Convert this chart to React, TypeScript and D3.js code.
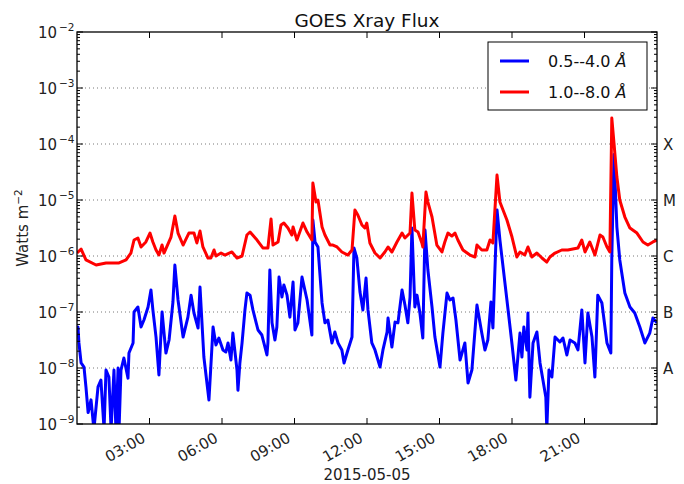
// @ts-nocheck
import * as d3 from "d3";
import { useRef, useEffect } from "react";

// GOES 1.0--8.0 A channel: [hour of 2015-05-05 UTC, flux W/m^2]
const longChannel = [
  [0.0, 1.13e-6], [0.17, 1.33e-6], [0.37, 8.5e-7], [0.79, 6.9e-7], [1.2, 7.5e-7], [1.74, 7.5e-7],
  [2.03, 8.5e-7], [2.23, 1.13e-6], [2.36, 1.93e-6], [2.52, 2.1e-6], [2.65, 1.45e-6], [2.85, 1.78e-6],
  [3.02, 2.57e-6], [3.14, 1.78e-6], [3.27, 1.28e-6], [3.39, 1.04e-6], [3.52, 1.57e-6], [3.6, 1.13e-6],
  [3.89, 2.18e-6], [4.05, 5.18e-6], [4.18, 2.57e-6], [4.39, 1.57e-6], [4.63, 2.57e-6], [4.84, 2.57e-6],
  [4.96, 1.71e-6], [5.09, 2.79e-6], [5.21, 1.45e-6], [5.42, 9.2e-7], [5.54, 9.2e-7], [5.67, 1.28e-6],
  [5.75, 1.0e-6], [5.96, 1.13e-6], [6.12, 1.04e-6], [6.41, 1.18e-6], [6.62, 9.2e-7], [6.83, 1.0e-6],
  [7.03, 2.37e-6], [7.16, 2.68e-6], [7.45, 1.93e-6], [7.69, 1.39e-6], [7.9, 1.39e-6], [8.03, 4.58e-6],
  [8.11, 1.57e-6], [8.32, 1.78e-6], [8.44, 3.57e-6], [8.56, 3.88e-6], [8.73, 3.16e-6], [8.89, 2.37e-6],
  [8.94, 3.29e-6], [9.1, 1.93e-6], [9.35, 3.88e-6], [9.52, 2.68e-6], [9.72, 1.93e-6], [9.76, 2.01e-5],
  [9.89, 9.2e-6], [9.97, 1.0e-5], [10.14, 3.29e-6], [10.26, 2.37e-6], [10.47, 1.57e-6], [10.59, 1.57e-6],
  [10.76, 1.45e-6], [10.96, 1.18e-6], [11.21, 1.04e-6], [11.38, 1.28e-6], [11.5, 6.63e-6], [11.62, 5.4e-6],
  [11.79, 3.57e-6], [11.91, 3.16e-6], [11.99, 3.88e-6], [12.12, 1.71e-6], [12.33, 1.13e-6], [12.54, 9.2e-7],
  [12.74, 1.18e-6], [12.87, 1.45e-6], [13.03, 1.18e-6], [13.24, 1.78e-6], [13.45, 2.57e-6], [13.57, 2.1e-6],
  [13.78, 2.57e-6], [13.86, 1.33e-5], [13.98, 2.91e-6], [14.11, 2.68e-6], [14.27, 1.71e-6], [14.31, 1.45e-6],
  [14.44, 1.39e-5], [14.52, 9.2e-6], [14.69, 4.97e-6], [14.89, 1.57e-6], [15.1, 1.18e-6], [15.22, 1.78e-6],
  [15.35, 2.57e-6], [15.51, 2.27e-6], [15.64, 2.57e-6], [15.76, 1.93e-6], [15.97, 1.28e-6], [16.26, 1.04e-6],
  [16.47, 9.6e-7], [16.55, 1.57e-6], [16.75, 1.28e-6], [16.96, 1.28e-6], [17.09, 1.93e-6], [17.21, 1.71e-6],
  [17.38, 2.79e-5], [17.5, 9.2e-6], [17.79, 4.39e-6], [18.0, 2.18e-6], [18.2, 9.6e-7], [18.33, 1.18e-6],
  [18.53, 1.04e-6], [18.66, 1.45e-6], [18.82, 9.6e-7], [19.03, 1.13e-6], [19.24, 9.2e-7], [19.44, 7.8e-7],
  [19.57, 9.6e-7], [19.78, 1.13e-6], [20.06, 1.28e-6], [20.31, 1.28e-6], [20.73, 1.39e-6], [20.89, 1.93e-6],
  [21.02, 1.18e-6], [21.22, 1.78e-6], [21.43, 1.04e-6], [21.64, 2.37e-6], [21.76, 2.18e-6], [21.93, 1.45e-6],
  [22.05, 1.18e-6], [22.13, 2.91e-4], [22.22, 1.04e-4], [22.34, 2.57e-5], [22.46, 1.0e-5], [22.67, 4.97e-6],
  [22.88, 3.16e-6], [23.17, 2.57e-6], [23.42, 1.78e-6], [23.62, 1.57e-6], [23.83, 1.78e-6], [24.0, 1.93e-6],
];

// GOES 0.5--4.0 A channel
const shortChannel = [
  [0.0, 4.0e-8], [0.04, 5.4e-8], [0.08, 2.8e-8], [0.17, 1.23e-8], [0.29, 1.04e-8], [0.37, 4.6e-9],
  [0.46, 1.6e-9], [0.58, 2.7e-9], [0.7, 8e-10], [0.87, 4.6e-9], [0.99, 6.1e-9], [1.12, 8e-10],
  [1.2, 9.2e-9], [1.32, 6.9e-9], [1.41, 8e-10], [1.53, 9.2e-9], [1.61, 8e-10], [1.7, 1.0e-8],
  [1.74, 8e-10], [1.82, 9.2e-9], [1.94, 1.51e-8], [2.11, 6.6e-9], [2.15, 1.85e-8], [2.32, 2.8e-8],
  [2.36, 1.0e-7], [2.52, 1.23e-7], [2.65, 5.4e-8], [2.77, 7.2e-8], [2.94, 1.23e-7], [3.06, 2.47e-7],
  [3.14, 1.09e-7], [3.27, 3.57e-8], [3.39, 7.5e-9], [3.52, 1.0e-7], [3.68, 1.85e-8], [3.81, 3.16e-8],
  [3.97, 1.51e-7], [4.05, 6.9e-7], [4.18, 1.64e-7], [4.39, 3.57e-8], [4.59, 8.1e-8], [4.72, 2.0e-7],
  [4.84, 9.6e-8], [5.01, 5.18e-8], [5.09, 2.79e-7], [5.25, 1.57e-8], [5.46, 2.68e-9], [5.63, 5.4e-8],
  [5.75, 2.57e-8], [5.87, 3.43e-8], [6.04, 2.1e-8], [6.16, 1.93e-8], [6.25, 2.8e-8], [6.37, 1.39e-8],
  [6.45, 4.2e-8], [6.62, 9.2e-9], [6.66, 4.0e-9], [6.74, 1.23e-8], [6.83, 2.8e-8], [6.95, 1.09e-7],
  [7.03, 2.18e-7], [7.16, 2.0e-7], [7.28, 1.09e-7], [7.49, 4.77e-8], [7.65, 3.88e-8], [7.86, 1.71e-8],
  [7.9, 2.8e-8], [7.98, 5.62e-7], [8.07, 6.4e-8], [8.19, 3.16e-8], [8.27, 5.4e-8], [8.36, 4.2e-7],
  [8.48, 1.85e-7], [8.56, 3.04e-7], [8.69, 2.0e-7], [8.81, 8.1e-8], [8.94, 3.43e-7], [9.02, 4.77e-8],
  [9.14, 6.4e-8], [9.31, 4.2e-7], [9.52, 1.64e-7], [9.72, 3.88e-8], [9.76, 4.39e-6], [9.85, 1.78e-6],
  [9.97, 1.45e-6], [10.14, 1.45e-7], [10.26, 6.4e-8], [10.38, 7.2e-8], [10.55, 2.8e-8], [10.67, 4.39e-8],
  [10.8, 2.8e-8], [10.96, 2.1e-8], [11.05, 1.23e-8], [11.21, 2.1e-8], [11.38, 3.57e-8], [11.46, 1.39e-6],
  [11.58, 9.2e-7], [11.71, 2.27e-7], [11.83, 1.09e-7], [11.96, 4.04e-7], [12.04, 1.09e-7], [12.2, 2.8e-8],
  [12.33, 2.1e-8], [12.54, 1.04e-8], [12.66, 2.1e-8], [12.83, 4.39e-8], [12.87, 7.8e-8], [13.03, 2.37e-8],
  [13.16, 6.6e-8], [13.28, 6.4e-8], [13.45, 2.47e-7], [13.57, 1.33e-7], [13.69, 6.4e-8], [13.78, 1.85e-7],
  [13.86, 3.16e-6], [13.98, 1.23e-7], [14.07, 2.0e-7], [14.19, 9.6e-8], [14.31, 3.43e-8], [14.4, 2.91e-6],
  [14.52, 5.62e-7], [14.69, 1.23e-7], [14.81, 3.57e-8], [15.02, 1.04e-8], [15.14, 4.2e-8], [15.31, 2.18e-7],
  [15.43, 1.64e-7], [15.56, 1.78e-7], [15.68, 7.2e-8], [15.85, 1.39e-8], [16.05, 2.8e-8], [16.18, 5.4e-9],
  [16.34, 9.2e-9], [16.55, 1.33e-7], [16.75, 4.2e-8], [16.88, 2.1e-8], [17.0, 3.16e-8], [17.13, 1.51e-7],
  [17.21, 5.18e-8], [17.38, 6.63e-6], [17.5, 1.93e-6], [17.79, 1.64e-7], [18.0, 2.68e-8], [18.16, 6.1e-9],
  [18.33, 4.2e-8], [18.41, 1.57e-8], [18.49, 5.4e-8], [18.62, 2.1e-8], [18.66, 9.6e-8], [18.74, 3.0e-9],
  [18.87, 2.8e-8], [19.03, 4.39e-8], [19.16, 1.23e-8], [19.28, 6.1e-9], [19.4, 3.0e-9], [19.44, 8e-10],
  [19.53, 9.2e-9], [19.65, 6.9e-9], [19.78, 3.57e-8], [19.98, 2.91e-8], [20.11, 3.43e-8], [20.27, 1.71e-8],
  [20.4, 3.16e-8], [20.6, 2.8e-8], [20.73, 2.1e-8], [20.89, 1.09e-7], [21.02, 1.23e-8], [21.14, 9.6e-8],
  [21.31, 3.57e-8], [21.43, 6.9e-9], [21.55, 2.0e-7], [21.72, 1.45e-7], [21.93, 2.8e-8], [22.09, 1.85e-8],
  [22.13, 9.6e-7], [22.22, 6.5e-5], [22.34, 3.29e-6], [22.46, 8.5e-7], [22.67, 2.18e-7], [22.88, 1.23e-7],
  [23.08, 9.6e-8], [23.29, 5.4e-8], [23.5, 2.8e-8], [23.7, 4.2e-8], [23.83, 7.8e-8], [24.0, 6.4e-8],
];

const decadeExponents = [-2, -3, -4, -5, -6, -7, -8, -9];
const flareClasses = ["X", "M", "C", "B", "A"]; // 1e-4 .. 1e-8
const legendLabels = ["0.5--4.0 ", "1.0--8.0 "];
const seriesColors = ["#0000ff", "#ff0000"];

export default function App() {
  const ref = useRef();

  useEffect(() => {
    const svg = d3.select(ref.current);
    svg.selectAll("*").remove();

    const left = 77, right = 657, top = 32, bottom = 424;
    const font = "DejaVu Sans, sans-serif";
    const t0 = Date.UTC(2015, 4, 5);
    const toDate = (h) => new Date(t0 + h * 3600e3);

    const x = d3.scaleUtc().domain([toDate(0), toDate(24)]).range([left, right]);
    const y = d3.scaleLog().domain([1e-9, 1e-2]).range([bottom, top]);

    svg.append("rect").attr("width", 684).attr("height", 484).attr("fill", "#fff");

    svg.append("clipPath").attr("id", "plotclip")
      .append("rect").attr("x", left).attr("y", top)
      .attr("width", right - left).attr("height", bottom - top);

    // grid
    svg.append("g").selectAll("line")
      .data(decadeExponents.filter((e) => e > -9 && e < -2))
      .enter().append("line")
      .attr("x1", left).attr("x2", right)
      .attr("y1", (e) => y(Math.pow(10, e))).attr("y2", (e) => y(Math.pow(10, e)))
      .attr("stroke", "#555").attr("stroke-width", 0.8).attr("stroke-dasharray", "1,3");

    const line = d3.line()
      .x((d) => x(toDate(d[0])))
      .y((d) => y(d[1]));

    const plot = svg.append("g").attr("clip-path", "url(#plotclip)");
    [shortChannel, longChannel].forEach((data, i) => {
      plot.append("path")
        .attr("d", line(data))
        .attr("fill", "none")
        .attr("stroke", seriesColors[i])
        .attr("stroke-width", 3)
        .attr("stroke-linejoin", "round");
    });

    // spines
    svg.append("rect")
      .attr("x", left).attr("y", top)
      .attr("width", right - left).attr("height", bottom - top)
      .attr("fill", "none").attr("stroke", "#000").attr("stroke-width", 1.3);

    // y ticks (major + minor), both sides, inward
    const yt = [];
    for (let e = -9; e <= -2; e++) {
      for (let k = 1; k <= 9; k++) {
        const v = k * Math.pow(10, e);
        if (v > 1e-2) break;
        yt.push({ v, major: k === 1 });
      }
    }
    const ticks = svg.append("g").attr("stroke", "#000").attr("stroke-width", 1);
    yt.forEach((t) => {
      const len = t.major ? 6 : 3;
      const yy = y(t.v);
      ticks.append("line").attr("x1", left).attr("x2", left + len).attr("y1", yy).attr("y2", yy);
      ticks.append("line").attr("x1", right).attr("x2", right - len).attr("y1", yy).attr("y2", yy);
    });

    // x ticks
    const xTicks = x.ticks(d3.utcHour.every(3)).filter((d) => d > toDate(0) && d < toDate(24));
    xTicks.forEach((d) => {
      ticks.append("line").attr("x1", x(d)).attr("x2", x(d)).attr("y1", bottom).attr("y2", bottom - 6);
      ticks.append("line").attr("x1", x(d)).attr("x2", x(d)).attr("y1", top).attr("y2", top + 6);
    });

    const fmt = d3.utcFormat("%H:%M");
    svg.append("g").selectAll("text")
      .data(xTicks).enter().append("text")
      .attr("transform", (d) => "translate(" + (x(d) - 3) + "," + (bottom + 17) + ") rotate(-30)")
      .attr("text-anchor", "end")
      .attr("font-family", font).attr("font-size", 15).attr("fill", "#222")
      .text((d) => fmt(d));

    // y tick labels 10^e
    decadeExponents.forEach((e) => {
      const t = svg.append("text")
        .attr("x", left - 20).attr("y", y(Math.pow(10, e)) + 5.5)
        .attr("text-anchor", "end")
        .attr("font-family", font).attr("font-size", 15).attr("fill", "#222");
      t.append("tspan").text("10");
      svg.append("text")
        .attr("x", left - 18).attr("y", y(Math.pow(10, e)) - 1)
        .attr("font-family", font).attr("font-size", 10.5).attr("fill", "#222")
        .text("\u2212" + Math.abs(e));
    });

    // flare class labels
    flareClasses.forEach((c, i) => {
      svg.append("text")
        .attr("x", right + 6).attr("y", y(Math.pow(10, -4 - i)) + 5.5)
        .attr("font-family", font).attr("font-size", 15).attr("fill", "#222")
        .text(c);
    });

    // title & labels
    svg.append("text")
      .attr("x", (left + right) / 2).attr("y", 26.5)
      .attr("text-anchor", "middle")
      .attr("font-family", font).attr("font-size", 18.5).attr("fill", "#111")
      .text("GOES Xray Flux");

    svg.append("text")
      .attr("x", (left + right) / 2).attr("y", 480)
      .attr("text-anchor", "middle")
      .attr("font-family", font).attr("font-size", 15).attr("fill", "#222")
      .text("2015-05-05");

    const yl = svg.append("text")
      .attr("transform", "translate(28," + (top + bottom) / 2 + ") rotate(-90)")
      .attr("text-anchor", "middle")
      .attr("font-family", font).attr("font-size", 15).attr("fill", "#222");
    yl.append("tspan").text("Watts m");
    yl.append("tspan").attr("dy", -6).attr("font-size", 10.5).text("\u22122");

    // legend
    const lg = svg.append("g");
    lg.append("rect")
      .attr("x", 488).attr("y", 42).attr("width", 159).attr("height", 68)
      .attr("fill", "#fff").attr("stroke", "#000").attr("stroke-width", 1);
    legendLabels.forEach((lab, i) => {
      const ly = 61 + i * 31;
      lg.append("line")
        .attr("x1", 500).attr("x2", 529).attr("y1", ly).attr("y2", ly)
        .attr("stroke", seriesColors[i]).attr("stroke-width", 3);
      const t = lg.append("text")
        .attr("x", 548).attr("y", ly + 6)
        .attr("font-family", font).attr("font-size", 16).attr("fill", "#111");
      t.append("tspan").text(lab);
      t.append("tspan").attr("font-style", "italic").text("\u00c5");
    });
  }, []);

  return (
    <svg
      ref={ref}
      width={684}
      height={484}
      style={{ position: "absolute", left: 0, top: 0 }}
    />
  );
}
